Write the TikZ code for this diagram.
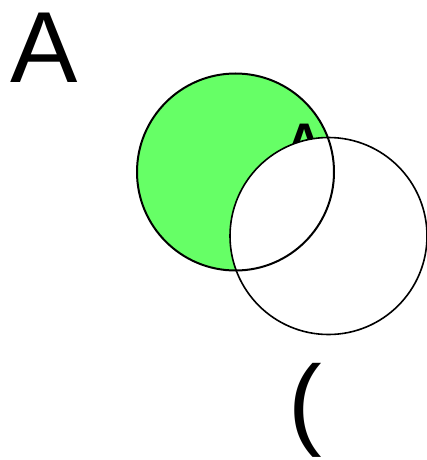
\documentclass[tikz,border=0pt]{standalone}
\usepackage{fontspec}
\setmainfont{Liberation Sans}
\definecolor{vgreen}{RGB}{102,255,102}
\begin{document}
\begin{tikzpicture}[x=1pt,y=-1pt,
  lbl/.style={inner sep=0pt, outer sep=0pt},
  big/.style={font=\fontsize{101}{101}\selectfont},
  ring/.style={line width=1.6pt}]
\useasboundingbox (0,0) rectangle (427,460);
\fill[vgreen] (235.5,172) circle (98.5);
\node[lbl, anchor=base, font=\fontsize{50}{50}\selectfont\bfseries] (a2) at (304.5,158) {A};
\fill[white] (328.5,236) circle (98.5);
\draw[line width=2pt] (235.5,172) circle (98.5);
\draw[ring] (328.5,236) circle (98.5);
\node[lbl, big, anchor=base west] (a1) at (10,82) {A};
\node[lbl, big, anchor=base west] (p1) at (288.6,436.6) {(};
\end{tikzpicture}
\end{document}
